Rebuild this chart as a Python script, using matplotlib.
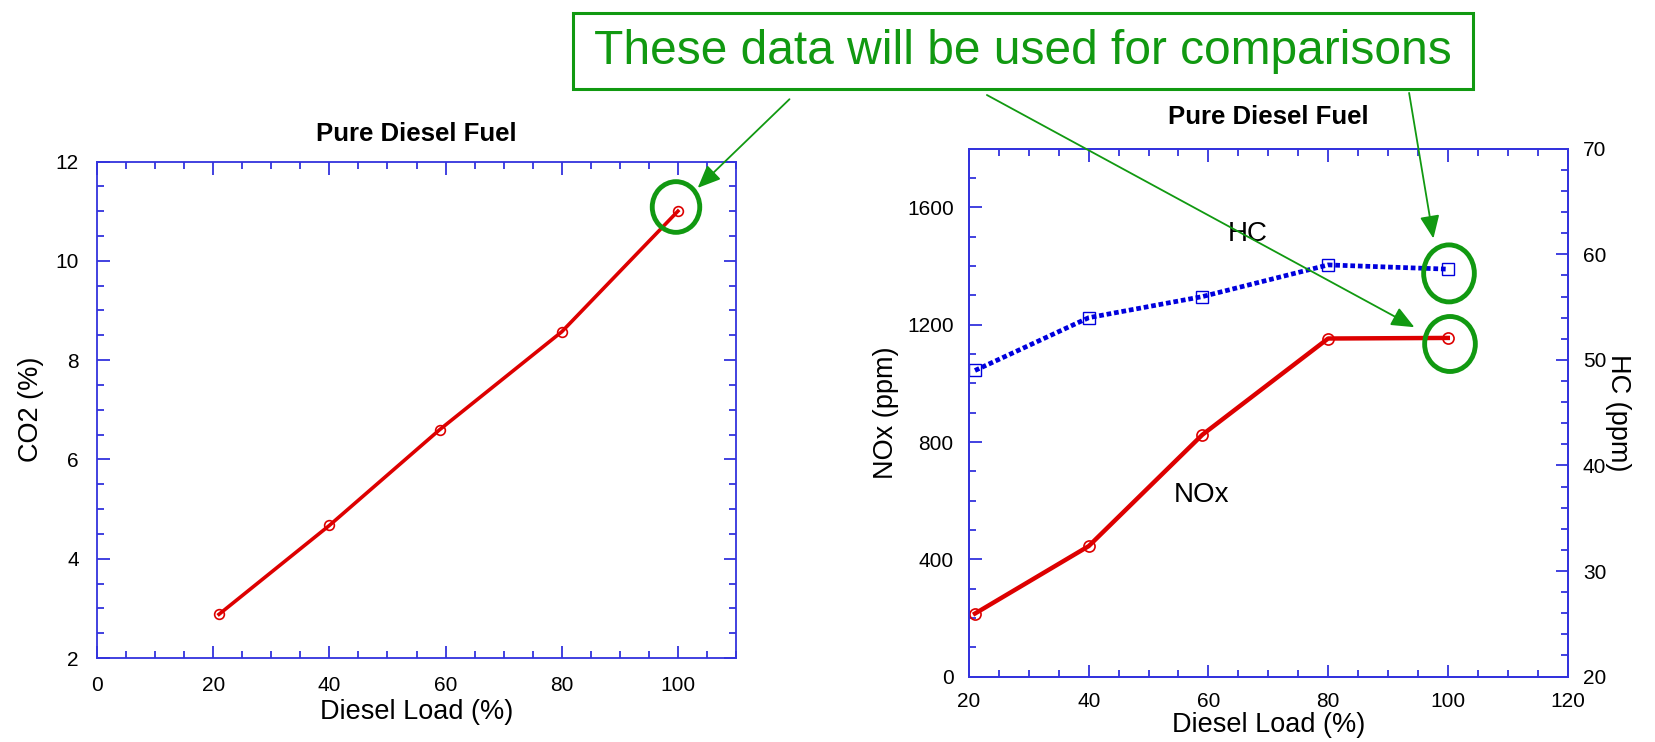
import matplotlib
matplotlib.use('Agg')
import matplotlib.pyplot as plt
from matplotlib.patches import Rectangle, Ellipse, FancyArrowPatch
from matplotlib.ticker import MultipleLocator

plt.rcParams['font.family'] = ['Liberation Sans', 'DejaVu Sans']

# data
load_co2 = [21, 40, 59, 80, 100]
co2 = [2.88, 4.67, 6.60, 8.57, 11.0]

load_nox = [21, 40, 59, 80, 100]
nox = [215, 445, 825, 1153, 1155]

load_hc = [21, 40, 59, 80, 100]
hc = [49.0, 54.0, 56.0, 59.0, 58.6]

W, H = 1655, 742
RED = '#dd0000'
BLUE = '#0000dd'
SPINE = '#3333dd'
GREEN = '#119911'


def fx(x):
    return x / W


def fy(y):
    return 1 - y / H


def style_axes(ax, right=True, pad=13):
    for s in ax.spines.values():
        s.set_color(SPINE)
        s.set_linewidth(1.3)
    ax.tick_params(which='both', direction='in', colors=SPINE, labelcolor='black',
                   top=True, right=right, labelsize=15, width=1.3, pad=pad)
    ax.tick_params(which='major', length=9)
    ax.tick_params(which='minor', length=5)


fig = plt.figure(figsize=(W / 100, H / 100), dpi=100)

# ---- left panel: CO2 ----
ax1 = fig.add_axes([fx(97), fy(658), fx(736 - 97), (658 - 161.5) / H])
ax1.plot(load_co2, co2, color=RED, lw=2.6, marker='o', ms=7, mfc='none',
         mec=RED, mew=1.2)
ax1.set_xlim(0, 110)
ax1.set_ylim(2, 12)
ax1.set_xticks([0, 20, 40, 60, 80, 100])
ax1.xaxis.set_minor_locator(MultipleLocator(5))
ax1.set_yticks([2, 4, 6, 8, 10, 12])
ax1.yaxis.set_minor_locator(MultipleLocator(0.5))
style_axes(ax1)
ax1.set_xlabel('Diesel Load (%)', fontsize=19.5, labelpad=3)
ax1.set_ylabel('CO2 (%)', fontsize=19.5, labelpad=8)
ax1.set_title('Pure Diesel Fuel', fontsize=18.5, fontweight='bold', pad=15)

# ---- right panel: NOx and HC ----
ax2 = fig.add_axes([fx(969), fy(676.6), fx(1567.5 - 969), (676.6 - 148.8) / H])
ax2.plot(load_nox, nox, color=RED, lw=3.2, marker='o', ms=8, mfc='none',
         mec=RED, mew=1.2, zorder=3)
ax2.set_xlim(20, 120)
ax2.set_ylim(0, 1800)
ax2.set_xticks([20, 40, 60, 80, 100, 120])
ax2.xaxis.set_minor_locator(MultipleLocator(5))
ax2.set_yticks([0, 400, 800, 1200, 1600])
ax2.yaxis.set_minor_locator(MultipleLocator(100))
style_axes(ax2, right=False, pad=11)
ax2.set_xlabel('Diesel Load (%)', fontsize=19.5, labelpad=1)
ax2.set_ylabel('NOx (ppm)', fontsize=19.5, labelpad=6)
ax2.set_title('Pure Diesel Fuel', fontsize=18.5, fontweight='bold', pad=18)
ax2.text(66.6, 1511, 'HC', fontsize=20, ha='center', va='center')
ax2.text(58.8, 619, 'NOx', fontsize=20, ha='center', va='center')

ax3 = ax2.twinx()
ax3.plot(load_hc, hc, color=BLUE, lw=3.4, ls=(0, (1, 0.6)), marker='s', ms=9,
         mfc='none', mec=BLUE, mew=1.0)
ax3.set_ylim(20, 70)
ax3.set_yticks([20, 30, 40, 50, 60, 70])
ax3.yaxis.set_minor_locator(MultipleLocator(2))
for s in ax3.spines.values():
    s.set_color(SPINE)
    s.set_linewidth(1.3)
ax3.tick_params(which='both', direction='in', colors=SPINE, labelcolor='black',
                labelsize=15, width=1.3, pad=11)
ax3.tick_params(which='major', length=9)
ax3.tick_params(which='minor', length=5)
ax3.set_ylabel('HC (ppm)', fontsize=19.5, rotation=270, labelpad=18)

# ---- annotation box, circles and arrows ----
fig.patches.append(Rectangle((fx(573), fy(88.7)), fx(1472.5 - 573), (88.7 - 12.7) / H,
                             transform=fig.transFigure, fill=False,
                             ec=GREEN, lw=2.2))
fig.text(fx(1022.5), fy(51.5), 'These data will be used for comparisons',
         color=GREEN, fontsize=34.5, ha='center', va='center')

for cx, cy, w, h in [(676, 207, 47.5, 50.7), (1449, 273.4, 50.7, 57),
                     (1450, 344, 50.7, 55)]:
    fig.patches.append(Ellipse((fx(cx), fy(cy)), fx(w), h / H,
                               transform=fig.transFigure, fill=False,
                               ec=GREEN, lw=3.5))

for (x0, y0), (x1, y1) in [((789.5, 99.2), (697.7, 187.9)),
                           ((986.9, 95.0), (1414.4, 327.2)),
                           ((1409.1, 92.9), (1433.4, 238.5))]:
    fig.patches.append(FancyArrowPatch((fx(x0), fy(y0)), (fx(x1), fy(y1)),
                                       transform=fig.transFigure,
                                       arrowstyle='-|>,head_length=14,head_width=6',
                                       color=GREEN, lw=1.3, shrinkA=0, shrinkB=0))

fig.savefig('out.png', dpi=100)
